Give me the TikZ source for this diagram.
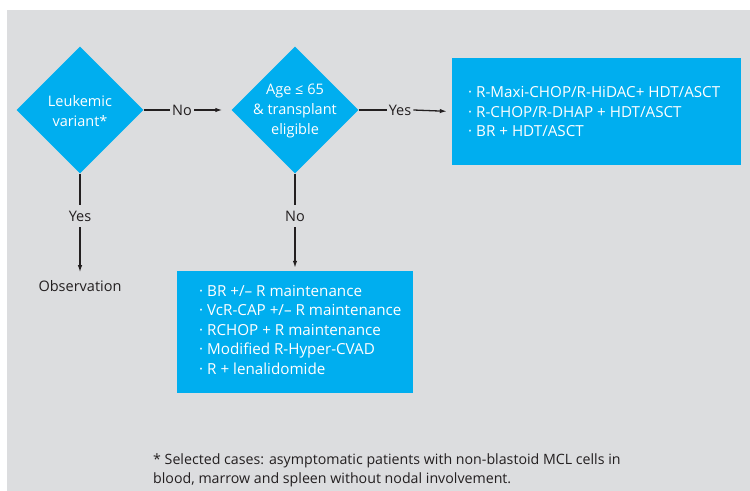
\documentclass[tikz,border=0pt]{standalone}
\usepackage{fontspec}
\setmainfont{Open Sans}
\usetikzlibrary{shapes.geometric,arrows.meta}
\definecolor{bg}{HTML}{DCDDDF}
\definecolor{cy}{HTML}{00AEEF}
\definecolor{ink}{HTML}{231F20}
\begin{document}
\begin{tikzpicture}[x=1bp,y=-1bp,
  dia/.style={diamond,aspect=1,fill=cy,minimum width=127bp,minimum height=127bp,inner sep=0pt},
  dtext/.style={text=white,align=center,font=\fontsize{14.5bp}{20bp}\selectfont,inner sep=0pt},
  lbl/.style={text=ink,font=\fontsize{14.5bp}{17bp}\selectfont,inner sep=2bp},
  box/.style={fill=cy,inner sep=0pt},
  btext/.style={text=white,align=left,anchor=west,inner sep=0pt,font=\fontsize{15.2bp}{19.5bp}\selectfont},
  conn/.style={draw=ink,line width=1.3bp},
  arr/.style={conn,-{Latex[length=7bp,width=4.5bp]}}
]
\useasboundingbox (0,0) rectangle (750,491);
\fill[bg] (7,10) rectangle (750,491);

\node[dia] (d1) at (80,110) {};
\node[dtext] (t1) at (80,111) {Leukemic\\variant*};
\node[dia] (d2) at (295,110) {};
\node[dtext] (t2) at (295,111) {Age ≤ 65\\\& transplant\\eligible};

\node[box,minimum width=289bp,minimum height=107bp] (b1) at (596.5,111.5) {};
\node[btext] (b1t) at (468,111.5)
 {· R-Maxi-CHOP/R-HiDAC+ HDT/ASCT\\· R-CHOP/R-DHAP + HDT/ASCT\\· BR + HDT/ASCT};
\node[box,minimum width=236bp,minimum height=122bp] (b2) at (295,332) {};
\node[btext] (b2t) at (199,329.5)
 {· BR +/– R maintenance\\· VcR-CAP +/– R maintenance\\· RCHOP + R maintenance\\· Modified R-Hyper-CVAD\\· R + lenalidomide};

\node[lbl] (no1) at (182,110) {No};
\node[lbl] (yes2) at (400,110) {Yes};
\node[lbl,inner ysep=6bp] (yes1) at (80,216) {Yes};
\node[lbl,inner ysep=6bp] (no2) at (295,216) {No};
\node[lbl] (obs) at (80,286) {Observation};

\draw[conn] (d1.east) -- (no1.west);
\draw[arr,shorten >=9bp] (no1.east) -- (d2.west);
\draw[conn] (d2.east) -- (yes2.west);
\draw[arr,shorten >=5bp] (yes2.east) -- (b1.west);
\draw[conn] (d1.south) -- (yes1.north);
\draw[arr,shorten >=6bp] (yes1.south) -- (obs.north);
\draw[conn] (d2.south) -- (no2.north);
\draw[arr,shorten >=3bp] (no2.south) -- (b2.north);

\node[text=ink,anchor=base west,align=left,font=\fontsize{14.2bp}{19bp}\selectfont,inner sep=0pt] (fn) at (153,483)
 {* Selected cases: asymptomatic patients with non-blastoid MCL cells in\\blood, marrow and spleen without nodal involvement.};
\end{tikzpicture}
\end{document}
